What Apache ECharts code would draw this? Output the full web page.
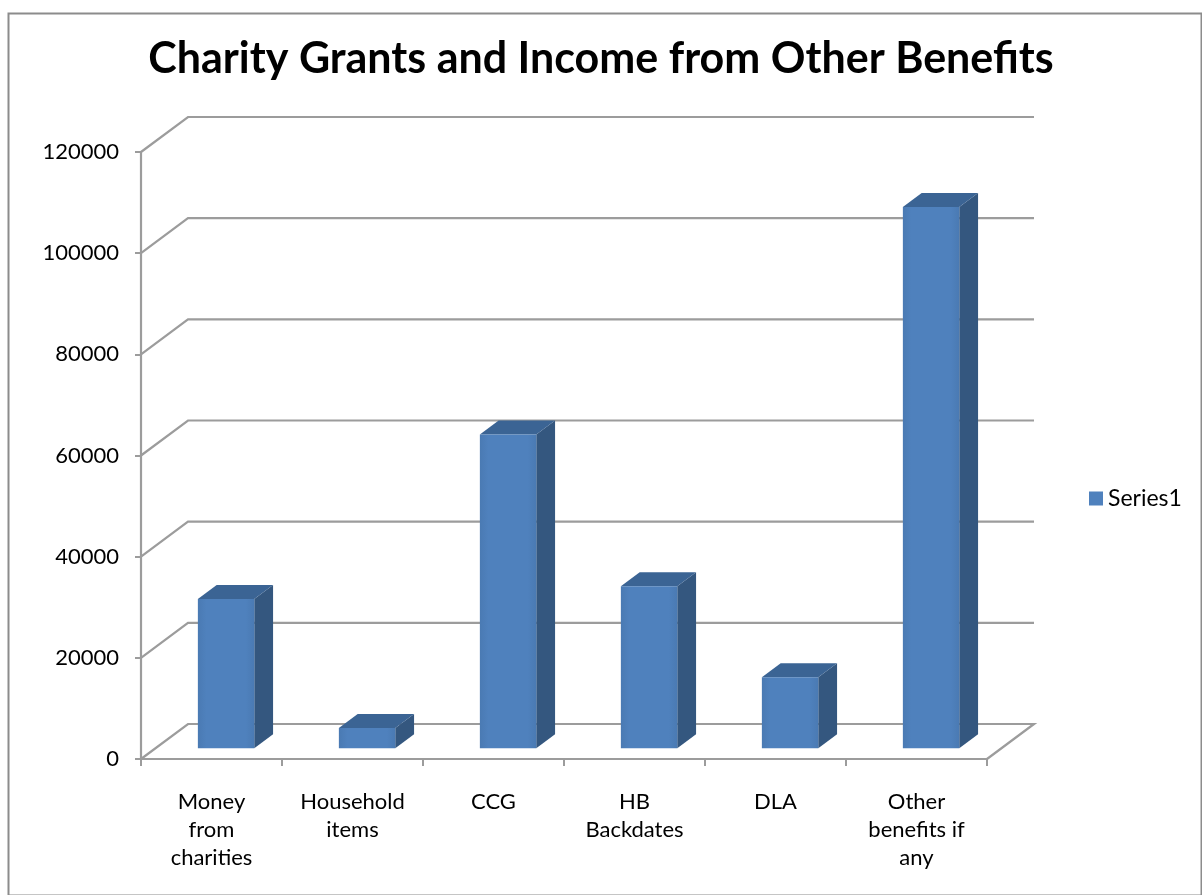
<!DOCTYPE html>
<html>
<head>
<meta charset="utf-8">
<script src="https://cdn.jsdelivr.net/npm/echarts@6/dist/echarts.min.js"></script>
<style>
html,body{margin:0;padding:0;background:#fff;}
#chart{width:1202px;height:895px;}
</style>
</head>
<body>
<div id="chart"></div>
<script>
// ---- data ----
var categories = ['Money\nfrom\ncharities', 'Household\nitems', 'CCG', 'HB\nBackdates', 'DLA', 'Other\nbenefits if\nany'];
var values = [29500, 4000, 62000, 32000, 14000, 107000];
var yTicks = [0, 20000, 40000, 60000, 80000, 100000, 120000];
var seriesName = 'Series1';

// ---- 3D look (pixel offsets) ----
var DX = 47, DY = -35;          // depth of the walls
var F = 0.31, B = 0.71;         // bar front / back depth fraction
var BAR_W = 0.40;               // bar width fraction of band

var chart = echarts.init(document.getElementById('chart'));

function wallItem(params, api) {
  var v = api.value(0);
  var band = api.size([1, 0])[0];
  var p0 = api.coord([0, v]);
  var pN = api.coord([categories.length - 1, v]);
  var xL = p0[0] - band / 2, xR = pN[0] + band / 2, y = p0[1];
  var pts = [[xL, y], [xL + DX, y + DY], [xR + DX, y + DY]];
  if (v === 0) pts.push([xR, y]);
  return {
    type: 'polyline',
    shape: { points: pts },
    style: { stroke: '#9c9c9c', lineWidth: 2.2, fill: null }
  };
}

function barItem(params, api) {
  var idx = api.value(0);
  var val = api.value(1);
  var band = api.size([1, 0])[0];
  var top = api.coord([idx, val]);
  var bot = api.coord([idx, 0]);
  var w = band * BAR_W;
  var fx = DX * F, fy = DY * F;
  var sx = DX * (B - F), sy = DY * (B - F);
  var x1 = top[0] + fx - w / 2, x2 = top[0] + fx + w / 2;
  var yt = top[1] + fy, yb = bot[1] + fy;
  return {
    type: 'group',
    children: [
      { type: 'polygon', shape: { points: [[x2, yt], [x2 + sx, yt + sy], [x2 + sx, yb + sy], [x2, yb]] },
        style: { fill: '#34577f' } },
      { type: 'polygon', shape: { points: [[x1, yt], [x1 + sx, yt + sy], [x2 + sx, yt + sy], [x2, yt]] },
        style: { fill: '#3b6494' } },
      { type: 'rect', shape: { x: x1, y: yt, width: w, height: yb - yt },
        style: { fill: new echarts.graphic.LinearGradient(0, 0, 1, 0, [
          { offset: 0, color: '#4a7ab3' }, { offset: 0.15, color: '#4f81bd' },
          { offset: 0.85, color: '#4f81bd' }, { offset: 1, color: '#4a7ab3' }]) } }
    ]
  };
}

var option = {
  backgroundColor: '#ffffff',
  animation: false,
  title: {
    text: 'Charity Grants and Income from Other Benefits',
    left: 'center',
    top: 33,
    textStyle: { fontFamily: 'Lato', fontWeight: 'bold', fontSize: 43, color: '#000' }
  },
  legend: {
    data: [seriesName],
    left: 1084, top: 482,
    itemWidth: 14, itemHeight: 14,
    itemGap: 8,
    icon: 'rect',
    textStyle: { fontFamily: 'Lato', fontSize: 23, color: '#000' }
  },
  grid: { left: 141, right: 215, top: 152, bottom: 136 },
  xAxis: {
    type: 'category',
    data: categories,
    boundaryGap: true,
    axisLine: { lineStyle: { color: '#9c9c9c', width: 2.2 } },
    axisTick: { show: true, alignWithLabel: false, length: 7, lineStyle: { color: '#9c9c9c', width: 2 } },
    axisLabel: { interval: 0, margin: 29, fontFamily: 'Lato', fontSize: 22, lineHeight: 28, color: '#000' }
  },
  yAxis: {
    type: 'value',
    min: 0, max: 120000, interval: 20000,
    axisLine: { show: true, lineStyle: { color: '#9c9c9c', width: 2.2 } },
    axisTick: { show: true, length: 6, lineStyle: { color: '#9c9c9c', width: 2 } },
    splitLine: { show: false },
    axisLabel: { margin: 22, fontFamily: 'Lato', fontSize: 22, color: '#000',
      formatter: function (v) { return String(v); } }
  },
  graphic: [{
    type: 'rect', left: 6, top: 11, z: -10,
    shape: { width: 1193, height: 882 },
    style: { fill: null, stroke: '#8c8c8c', lineWidth: 2 }
  }],
  series: [
    {
      type: 'custom',
      name: 'walls',
      data: yTicks.map(function (v) { return [v]; }),
      renderItem: wallItem,
      encode: { y: 0 },
      z: 1,
      silent: true
    },
    {
      type: 'custom',
      name: seriesName,
      itemStyle: { color: '#4f81bd' },
      data: values.map(function (v, i) { return [i, v]; }),
      renderItem: barItem,
      encode: { x: 0, y: 1 },
      z: 2
    }
  ]
};
chart.setOption(option);
</script>
</body>
</html>
